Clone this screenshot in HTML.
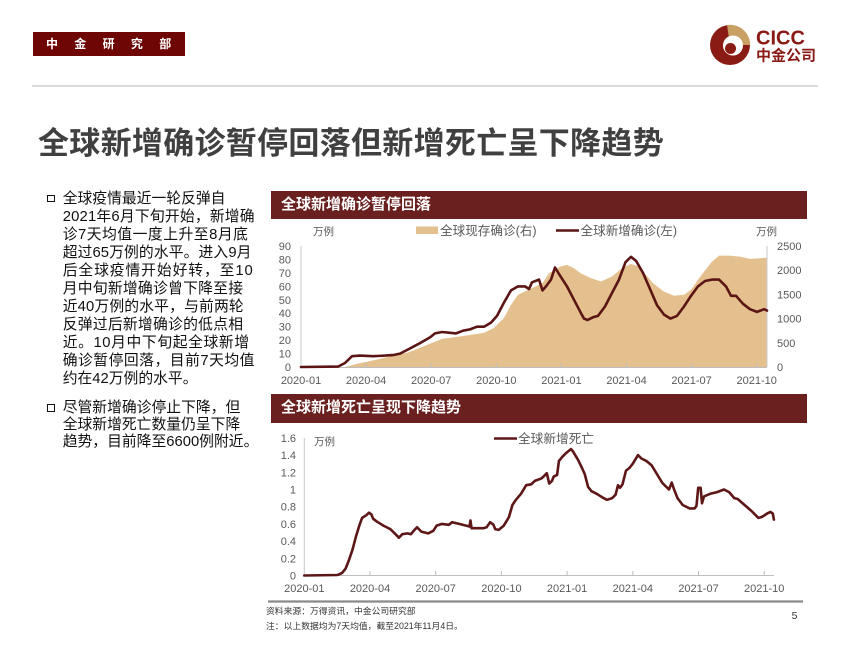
<!DOCTYPE html>
<html><head><meta charset="utf-8">
<style>
html,body{margin:0;padding:0;background:#fff;}
#page{position:relative;width:850px;height:656px;overflow:hidden;background:#fff;font-family:"Liberation Sans","Noto Sans CJK SC",sans-serif;}
.abs{position:absolute;}
.hdrbox{left:33px;top:32px;width:152px;height:24px;background:#6E0606;}
.hdrbox span{position:absolute;left:13px;top:4px;font-size:12px;line-height:16px;font-weight:bold;color:#fff;letter-spacing:16.3px;white-space:nowrap;}
.title{left:38px;top:127px;font-size:31px;line-height:33px;font-weight:bold;color:#404040;letter-spacing:0.3px;white-space:nowrap;}
.txt{left:62.7px;font-size:14.8px;color:#111;white-space:nowrap;}
.bul{width:5.6px;height:5.6px;border:1.6px solid #111;}
.bar{left:271px;width:536px;background:#6B2020;}
.bar span{position:absolute;left:10px;top:5px;font-size:15px;line-height:18px;font-weight:bold;color:#fff;white-space:nowrap;}
.foot{font-size:8.8px;line-height:11px;color:#333;white-space:nowrap;}
</style></head>
<body><div id="page">

<div class="abs hdrbox"><span>中金研究部</span></div>

<div class="abs" style="left:32px;top:85px;width:786px;height:2px;background:#dadada;"></div>

<svg class="abs" style="left:0;top:0" width="850" height="656">
  <circle cx="730" cy="45" r="20" fill="#8A1A14"/>
  <path d="M730,45 L727,25 A20,20 0 0 1 750,45 Z" fill="#C9A063"/>
  <circle cx="733" cy="45.5" r="10" fill="#fff"/>
  <circle cx="730.5" cy="48.5" r="5.5" fill="#8A1A14"/>
  <text x="756" y="44.5" style="font-family:'Liberation Sans',sans-serif;font-weight:bold;font-size:20px;" fill="#8A1A14">CICC</text>
  <text x="756" y="60.5" style="font-family:'Liberation Sans','Noto Sans CJK SC',sans-serif;font-weight:bold;font-size:15px;" fill="#8A1A14">中金公司</text>
</svg>

<div class="abs title">全球新增确诊暂停回落但新增死亡呈下降趋势</div>

<div class="abs bul" style="left:47px;top:194.5px;"></div>
<div class="abs bul" style="left:47px;top:404px;"></div>

<div class="abs txt" style="top:189.5px;line-height:18px;">
<div>全球疫情最近一轮反弹自</div>
<div style="letter-spacing:0.2px">2021年6月下旬开始，新增确</div>
<div style="letter-spacing:0.5px">诊7天均值一度上升至8月底</div>
<div style="letter-spacing:0.1px">超过65万例的水平。进入9月</div>
<div style="letter-spacing:0.9px">后全球疫情开始好转，至10</div>
<div style="letter-spacing:0.25px">月中旬新增确诊曾下降至接</div>
<div style="letter-spacing:0.15px">近40万例的水平，与前两轮</div>
<div style="letter-spacing:0.25px">反弹过后新增确诊的低点相</div>
<div style="letter-spacing:0.6px">近。10月中下旬起全球新增</div>
<div style="letter-spacing:0.5px">确诊暂停回落，目前7天均值</div>
<div>约在42万例的水平。</div>
</div>
<div class="abs txt" style="top:399.5px;line-height:17.2px;">
<div>尽管新增确诊停止下降，但</div>
<div>全球新增死亡数量仍呈下降</div>
<div>趋势，目前降至6600例附近。</div>
</div>

<div class="abs bar" style="top:191px;height:28px;"><span>全球新增确诊暂停回落</span></div>
<div class="abs bar" style="top:394px;height:29px;"><span>全球新增死亡呈现下降趋势</span></div>

<svg class="abs" style="left:0;top:0" width="850" height="656">
 <g style="font-family:'Liberation Sans','Noto Sans CJK SC',sans-serif;" fill="#595959">
  <path d="M345,367 L360,363.1 L375,360 L391,356.1 L408,352.5 L430,343.8 L442,338.9 L463,336 L484,332.9 L494,327.9 L504,317.9 L511,304.7 L518,294.7 L532,288.1 L542.5,283.1 L549,273.2 L560,266.6 L567,264.9 L574,268.2 L580.6,273.2 L591,278.1 L601,281.5 L612,276.5 L622,268.2 L631,263.9 L639,266.6 L646,274.8 L653,283.1 L663.6,291.4 L674,295.7 L684,294.7 L691,289.8 L701.6,274.8 L712,261.6 L719,255.6 L729,255.6 L740,256.6 L750,258.9 L760.5,258.2 L767,257.6 L767,367 Z" fill="#E4C08E"/>
  <line x1="301" y1="246" x2="301" y2="367" stroke="#c8c8c8" stroke-width="1"/>
  <line x1="767" y1="246" x2="767" y2="367" stroke="#c8c8c8" stroke-width="1"/>
  <line x1="301" y1="367.5" x2="767" y2="367.5" stroke="#bdbdbd" stroke-width="1"/>
  <g stroke="#bdbdbd" stroke-width="1">
   <line x1="366.1" y1="363" x2="366.1" y2="367"/><line x1="431.2" y1="363" x2="431.2" y2="367"/>
   <line x1="496.3" y1="363" x2="496.3" y2="367"/><line x1="561.4" y1="363" x2="561.4" y2="367"/>
   <line x1="626.5" y1="363" x2="626.5" y2="367"/><line x1="691.6" y1="363" x2="691.6" y2="367"/>
   <line x1="756.7" y1="363" x2="756.7" y2="367"/>
  </g>
  <path d="M301,367 L338,366.6 L345,363 L352,356.2 L360,355.6 L373,356.2 L385,355.6 L394,354.9 L400,353.6 L408,349.5 L418,344.2 L430,337.4 L435,333.4 L442,332 L449,332.7 L456,333.4 L463,330.7 L470,329.4 L477,326.7 L484,326.7 L491,322.6 L497,315.9 L504,302.5 L511,290.4 L518,286.4 L525,286.4 L529,289 L532,282.3 L539,279.6 L542.5,290.4 L546,286.4 L551,279.6 L555,267.5 L560,275.6 L567,286.4 L574,299.8 L581,313.2 L584,318.6 L587.5,320 L593,317.3 L598,315.9 L605,306.5 L612,293 L619,279.6 L625.5,262.2 L631,256.8 L636,260.8 L643,272.9 L650,289 L657,305.2 L664,314.6 L670.5,318.6 L677,315.9 L684,306.5 L691,295.8 L698,286.4 L705,281 L712,279.6 L719,279.6 L726,286.4 L731,295.8 L736,295.8 L743,303.8 L750,309.2 L757,311.9 L764,309.2 L767,310.6" fill="none" stroke="#5B1515" stroke-width="2.6" stroke-linejoin="round" stroke-linecap="round"/>
  <g style="font-size:11px" text-anchor="end">
   <text x="291" y="371">0</text><text x="291" y="357.6">10</text><text x="291" y="344.1">20</text>
   <text x="291" y="330.7">30</text><text x="291" y="317.2">40</text><text x="291" y="303.8">50</text>
   <text x="291" y="290.4">60</text><text x="291" y="276.9">70</text><text x="291" y="263.5">80</text>
   <text x="291" y="250">90</text>
  </g>
  <g style="font-size:11px" text-anchor="start">
   <text x="777" y="371">0</text><text x="777" y="346.8">500</text><text x="777" y="322.6">1000</text>
   <text x="777" y="298.4">1500</text><text x="777" y="274.2">2000</text><text x="777" y="250">2500</text>
  </g>
  <g style="font-size:11px" text-anchor="middle">
   <text x="301" y="384">2020-01</text><text x="366.1" y="384">2020-04</text><text x="431.2" y="384">2020-07</text>
   <text x="496.3" y="384">2020-10</text><text x="561.4" y="384">2021-01</text><text x="626.5" y="384">2021-04</text>
   <text x="691.6" y="384">2021-07</text><text x="756.7" y="384">2021-10</text>
  </g>
  <text x="313" y="235" style="font-size:10.5px">万例</text>
  <text x="756" y="235" style="font-size:10.5px">万例</text>
  <rect x="416" y="226.5" width="22" height="7.5" fill="#E4C08E"/>
  <text x="440" y="235" style="font-size:12.6px">全球现存确诊(右)</text>
  <line x1="556" y1="230.5" x2="579" y2="230.5" stroke="#5B1515" stroke-width="2.6"/>
  <text x="580.5" y="235" style="font-size:12.6px">全球新增确诊(左)</text>

  <line x1="304.3" y1="438" x2="304.3" y2="575.5" stroke="#c8c8c8" stroke-width="1"/>
  <line x1="304.3" y1="575.5" x2="774" y2="575.5" stroke="#bdbdbd" stroke-width="1"/>
  <g stroke="#bdbdbd" stroke-width="1">
   <line x1="370" y1="571" x2="370" y2="575.5"/><line x1="435.7" y1="571" x2="435.7" y2="575.5"/>
   <line x1="501.4" y1="571" x2="501.4" y2="575.5"/><line x1="567.1" y1="571" x2="567.1" y2="575.5"/>
   <line x1="632.8" y1="571" x2="632.8" y2="575.5"/><line x1="698.5" y1="571" x2="698.5" y2="575.5"/>
   <line x1="764.2" y1="571" x2="764.2" y2="575.5"/>
  </g>
  <path d="M304.3,575.5 L337,575 L338.7,574.6 L342.1,572.9 L345.6,568.6 L349,560 L352.5,549.7 L355.9,536.8 L359.3,525.6 L362.1,517.9 L366.2,515.3 L369,512.7 L371.4,514.4 L373.1,518.7 L376.5,521.3 L383.4,525.6 L390.3,529.1 L395.5,534.2 L398.9,537.7 L402.3,534.2 L407.5,533.4 L410.9,534.2 L414.4,529.9 L417.1,527.3 L421.3,531.6 L428.1,533.4 L433.3,530.8 L436.7,525.6 L441.9,523.9 L448.8,524.8 L452.2,522.2 L459.1,523.9 L466,525.6 L469.4,526.5 L470.5,520.5 L471.5,528.2 L476.3,528.2 L483.2,528.2 L486.6,527.3 L490.1,522.2 L493.5,524.8 L495.2,529.1 L498.7,529.9 L503.8,525.6 L509,517 L512.4,505 L515.9,499.8 L521,493.8 L526.2,485.2 L531.3,484.3 L534.8,480.9 L541.7,478.3 L545.1,474.9 L546.8,473.2 L549.2,483.5 L552,480.9 L553.7,476.6 L557.1,474.9 L558.9,461.1 L562.3,456.8 L565.7,453.4 L570.9,449.1 L572.6,450.8 L577.8,459.4 L581.2,466.3 L584.7,474 L588.1,486.9 L591.5,491.2 L596.7,493.8 L603.6,498.1 L607,499.8 L612.2,498.1 L615.6,494.7 L618,485.2 L620.1,487.8 L622.5,484.3 L626,470.6 L629.4,468 L632.8,463.7 L638,455.1 L641.4,458.5 L646.6,461.1 L651.7,465.4 L656.9,474 L662.1,482.6 L665.5,486.1 L669,489.5 L671.7,482.6 L674.1,489.5 L677.5,498.1 L682.7,505 L689.6,508.4 L694.7,508.4 L696.5,505.8 L698.2,487.8 L700.6,487.8 L702,503.3 L704,496.4 L710.2,493.8 L717.1,492.1 L724,489.5 L729.1,492.1 L734.3,498.1 L737.7,499 L744.6,505 L751.5,511 L758.4,517.9 L761.8,517 L767,513.6 L770.4,511.9 L772.8,513.6 L773.9,519.6" fill="none" stroke="#5E1717" stroke-width="2.6" stroke-linejoin="round" stroke-linecap="round"/>
  <g style="font-size:11px" text-anchor="end">
   <text x="296" y="579.5">0</text><text x="296" y="562.3">0.2</text><text x="296" y="545.1">0.4</text>
   <text x="296" y="527.9">0.6</text><text x="296" y="510.7">0.8</text><text x="296" y="493.5">1</text>
   <text x="296" y="476.3">1.2</text><text x="296" y="459.1">1.4</text><text x="296" y="441.9">1.6</text>
  </g>
  <g style="font-size:11px" text-anchor="middle">
   <text x="304.3" y="592">2020-01</text><text x="370" y="592">2020-04</text><text x="435.7" y="592">2020-07</text>
   <text x="501.4" y="592">2020-10</text><text x="567.1" y="592">2021-01</text><text x="632.8" y="592">2021-04</text>
   <text x="698.5" y="592">2021-07</text><text x="764.2" y="592">2021-10</text>
  </g>
  <text x="314" y="445" style="font-size:10.5px">万例</text>
  <line x1="494" y1="438.5" x2="517" y2="438.5" stroke="#5E1717" stroke-width="2.6"/>
  <text x="518" y="443" style="font-size:12.7px">全球新增死亡</text>

  <line x1="268" y1="601.5" x2="803" y2="601.5" stroke="#8a8a8a" stroke-width="2.2"/>
  <text x="794.5" y="619" style="font-size:10.5px" fill="#333" text-anchor="middle">5</text>
 </g>
</svg>

<div class="abs foot" style="left:266px;top:605.5px;">资料来源：万得资讯，中金公司研究部</div>
<div class="abs foot" style="left:266px;top:620.5px;">注：以上数据均为7天均值，截至2021年11月4日。</div>

</div></body></html>
